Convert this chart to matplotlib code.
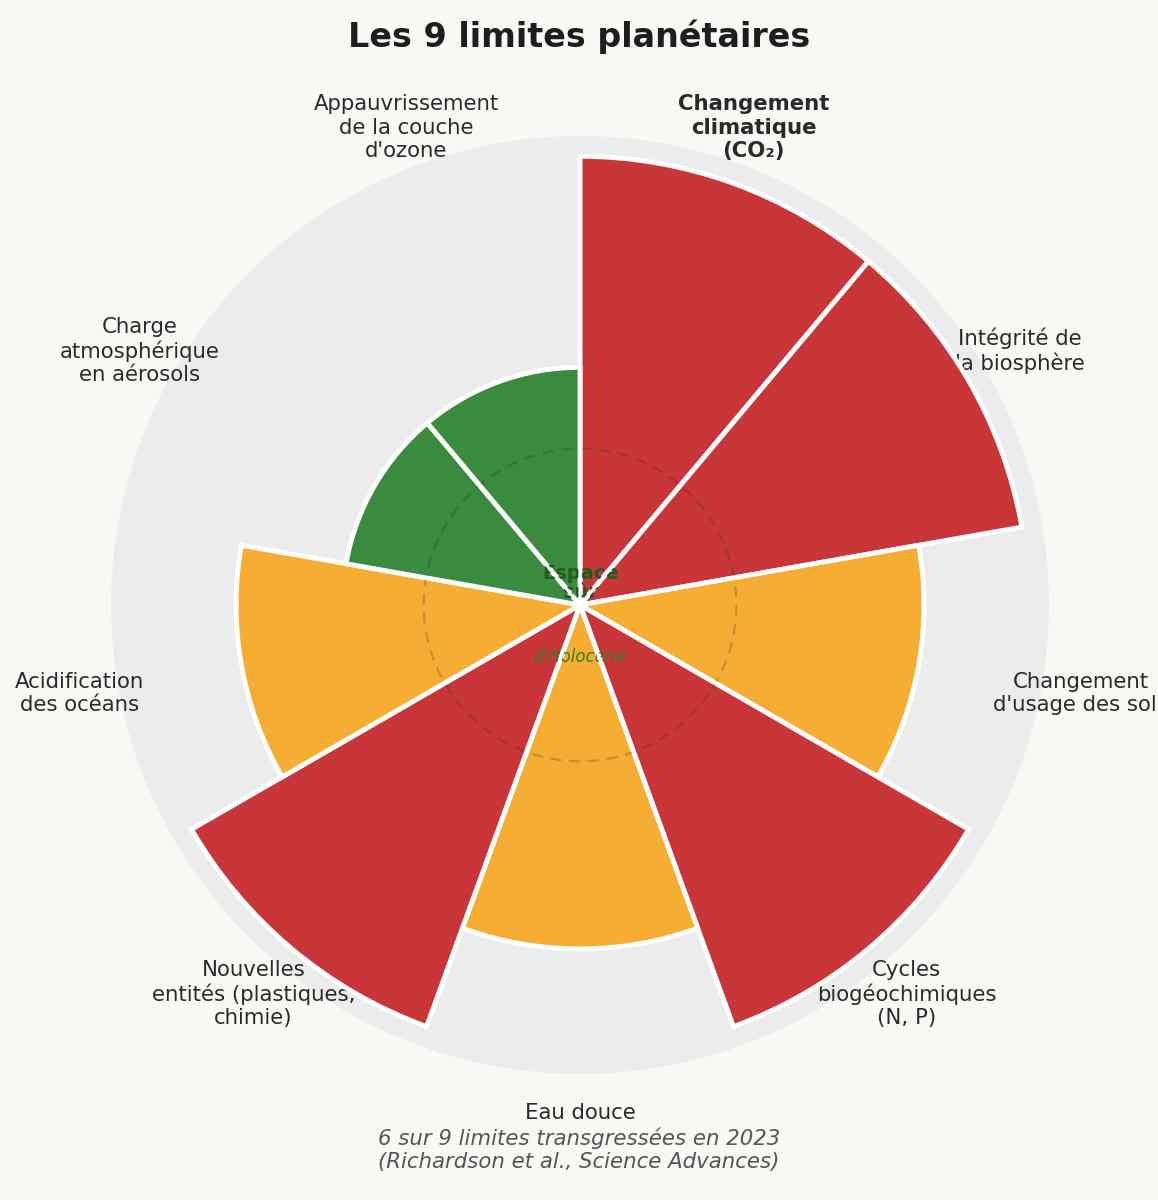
import numpy as np
import matplotlib.pyplot as plt

# Les neuf limites, dans le sens horaire depuis le nord
limites = [
    "Changement\nclimatique\n(CO₂)",
    "Intégrité de\nla biosphère",
    "Changement\nd'usage des sols",
    "Cycles\nbiogéochimiques\n(N, P)",
    "Eau douce",
    "Nouvelles\nentités (plastiques,\nchimie)",
    "Acidification\ndes océans",
    "Charge\natmosphérique\nen aérosols",
    "Appauvrissement\nde la couche\nd'ozone",
]
# niveau relatif (1 = limite de sécurité)
niveaux = [2.87, 2.87, 2.2, 2.87, 2.2, 2.87, 2.2, 1.52, 1.52]
statuts = ["depasse", "depasse", "risque", "depasse", "risque",
           "depasse", "risque", "sur", "sur"]

couleurs = {"depasse": "#c9363a", "risque": "#f5ae33", "sur": "#3a8a3f"}
fond = "#f8f8f5"

fig = plt.figure(figsize=(11.58, 12), dpi=100, facecolor=fond)
ax = fig.add_axes([0.0959, 0.105, 0.810, 0.7817], projection="polar")
ax.set_facecolor("#ececec")
ax.set_theta_zero_location("N")
ax.set_theta_direction(-1)
ax.set_ylim(0, 3.0)

n = len(limites)
largeur = 2 * np.pi / n
theta = np.deg2rad(20 + 40 * np.arange(n))
cols = [couleurs[s] for s in statuts]

ax.bar(theta, niveaux, width=largeur, color=cols, edgecolor="white",
       linewidth=3.5, zorder=2)

# cercle de la limite de sécurité
t = np.linspace(0, 2 * np.pi, 400)
ax.plot(t, np.ones_like(t), ls=(0, (5, 3.5)), color="#222222", alpha=0.22,
        lw=1.6, zorder=3)

# texte central
ax.text(0.501, 0.5235, "Espace\nsûr", transform=ax.transAxes, ha="center",
        va="center", fontsize=14, fontweight="bold", color="#1d5c22",
        linespacing=1.0, zorder=3)
ax.text(0.499, 0.445, "d'Holocène", transform=ax.transAxes, ha="center",
        va="center", fontsize=12, style="italic", color="#3a7a2c",
        zorder=3)

# bordures blanches par-dessus le texte central
ax.bar(theta, niveaux, width=largeur, color="none", edgecolor="white",
       linewidth=2.0, zorder=4)

for th, lab in zip(theta, limites):
    gras = "bold" if lab.startswith("Changement\nclimatique") else "normal"
    ax.text(th, 3.25, lab, ha="center", va="center", fontsize=15.3,
            color="#2a2a2a", fontweight=gras, zorder=1)

ax.grid(False)
ax.set_xticks([])
ax.set_yticks([])
ax.spines["polar"].set_visible(False)

fig.text(0.5, 1 - 37 / 1200, "Les 9 limites planétaires", ha="center",
         va="center", fontsize=24, fontweight="bold", color="#1e1e1e")
fig.text(0.5, 1 - 1150 / 1200,
         "6 sur 9 limites transgressées en 2023\n(Richardson et al., Science Advances)",
         ha="center", va="center", fontsize=15.3, style="italic", color="#555555")

fig.savefig("out.png", dpi=100, facecolor=fond)
